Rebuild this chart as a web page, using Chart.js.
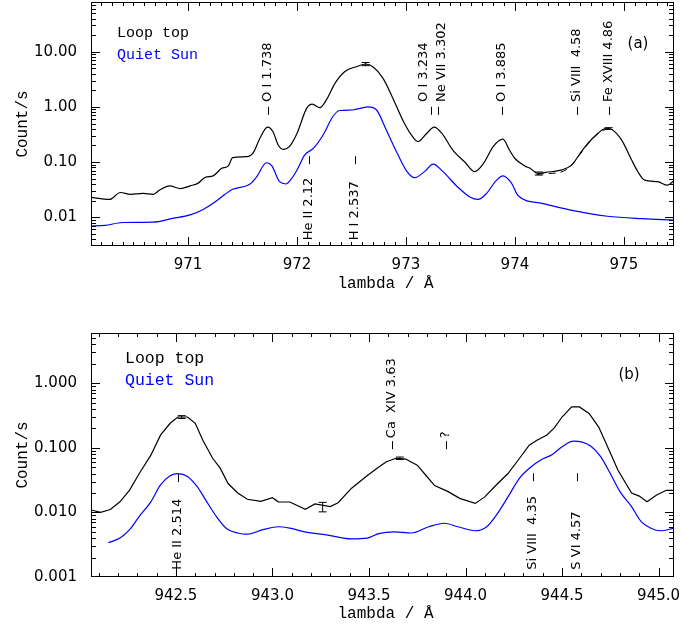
<!DOCTYPE html>
<html>
<head>
<meta charset="utf-8">
<script src="https://cdn.jsdelivr.net/npm/chart.js@4.4.1/dist/chart.umd.min.js"></script>
<style>
    body { margin: 0; background: #fff; }
    #wrap { position: relative; width: 682px; height: 630px; }
    canvas { position: absolute; left: 0; }
</style>
</head>
<body>
<div id="wrap">
    <canvas id="panelA" width="682" height="315" style="top:0"></canvas>
    <canvas id="panelB" width="682" height="315" style="top:315px"></canvas>
</div>
<script>
// ---- 面板 (a) 数据 ----
const waveA = [970.10, 970.28, 970.38, 970.47, 970.59, 970.68, 970.74, 970.83, 970.93, 971.02,
    971.09, 971.16, 971.23, 971.31, 971.37, 971.41, 971.54, 971.60, 971.66, 971.73,
    971.78, 971.83, 971.88, 971.93, 972.00, 972.09, 972.14, 972.21, 972.27, 972.35,
    972.44, 972.55, 972.63, 972.70, 972.79, 972.88, 972.97, 973.05, 973.11, 973.19,
    973.26, 973.33, 973.43, 973.54, 973.63, 973.72, 973.80, 973.89, 973.95, 974.00,
    974.09, 974.14, 974.21, 974.28, 974.43, 974.52, 974.62, 974.73, 974.84, 974.89,
    974.98, 975.07, 975.13, 975.19, 975.31, 975.40, 975.46];
const loopA = [0.023, 0.021, 0.028, 0.026, 0.027, 0.026, 0.031, 0.037, 0.033, 0.037,
    0.041, 0.053, 0.056, 0.077, 0.085, 0.12, 0.125, 0.148, 0.27, 0.43,
    0.355, 0.20, 0.17, 0.19, 0.33, 0.95, 1.12, 0.97, 1.34, 2.7,
    4.4, 5.4, 6.0, 5.3, 3.3, 1.44, 0.58, 0.31, 0.235, 0.33,
    0.43, 0.33, 0.165, 0.10, 0.067, 0.10, 0.19, 0.26, 0.165, 0.116,
    0.085, 0.077, 0.062, 0.065, 0.072, 0.088, 0.165, 0.29, 0.41, 0.39,
    0.25, 0.11, 0.066, 0.047, 0.044, 0.038, 0.046];
const waveQuietA = [970.10, 970.24, 970.40, 970.68, 970.86, 971.02, 971.14, 971.25, 971.34, 971.41,
    971.57, 971.63, 971.72, 971.77, 971.84, 971.90, 971.94, 972.00, 972.07, 972.15,
    972.24, 972.33, 972.39, 972.51, 972.65, 972.73, 972.82, 972.92, 973.01, 973.08,
    973.17, 973.25, 973.34, 973.47, 973.59, 973.66, 973.74, 973.82, 973.89, 973.97,
    974.03, 974.25, 974.55, 974.85, 975.17, 975.46];
const quietA = [0.0069, 0.0071, 0.0080, 0.0081, 0.0095, 0.011, 0.0138, 0.019, 0.026, 0.032,
    0.040, 0.054, 0.097, 0.085, 0.044, 0.040, 0.047, 0.071, 0.134, 0.177,
    0.31, 0.67, 0.86, 0.88, 1.0, 0.88, 0.38, 0.144, 0.067, 0.052,
    0.067, 0.092, 0.067, 0.036, 0.023, 0.021, 0.027, 0.044, 0.056, 0.041,
    0.0245, 0.0178, 0.013, 0.0104, 0.0094, 0.0089];
// Fe XVIII 拟合（虚线）
const fitWaveA = [974.20, 974.30, 974.40, 974.50, 974.60, 974.70, 974.80, 974.86];
const fitA = [0.060, 0.062, 0.064, 0.080, 0.14, 0.25, 0.37, 0.40];
const errWaveA = [972.63, 974.22, 974.86];
const errLoA = [5.6, 0.058, 0.39];
const errHiA = [6.4, 0.066, 0.42];
const xTicksA = [971, 972, 973, 974, 975];
const xLabelsA = ['971', '972', '973', '974', '975'];
const yTicksA = [0.01, 0.1, 1, 10];
const yLabelsA = ['0.01', '0.10', '1.00', '10.00'];
// 谱线标注：短划线波长、文字波长、短划线位置、文字起点
const lineWaveA = [971.73, 972.11, 972.53, 973.23, 973.29, 973.88, 974.57, 974.86];
const lineTextWaveA = [971.73, 972.11, 972.53, 973.17, 973.33, 973.88, 974.57, 974.86];
const lineNameA = ['O I 1.738', 'He II 2.12', 'H I 2.537', 'O I 3.234', 'Ne VII 3.302', 'O I 3.885', 'Si VIII  4.58', 'Fe XVIII 4.86'];
const lineMarkA = [0.85, 0.108, 0.108, 0.85, 0.85, 0.85, 0.85, 0.85];
const lineTextA = [1.23, 0.0038, 0.0038, 1.23, 1.23, 1.23, 1.23, 1.23];

// ---- 面板 (b) 数据 ----
const waveB = [942.06, 942.11, 942.16, 942.21, 942.26, 942.31, 942.37, 942.42, 942.47, 942.51,
    942.56, 942.60, 942.64, 942.69, 942.73, 942.77, 942.82, 942.87, 942.94, 943.00,
    943.03, 943.09, 943.17, 943.22, 943.30, 943.34, 943.41, 943.49, 943.54, 943.59,
    943.64, 943.69, 943.75, 943.80, 943.84, 943.91, 943.97, 944.05, 944.10, 944.15,
    944.22, 944.28, 944.33, 944.37, 944.42, 944.46, 944.50, 944.55, 944.59, 944.64,
    944.69, 944.74, 944.79, 944.86, 944.90, 944.94, 944.99, 945.04, 945.08];
const loopB = [0.0109, 0.0100, 0.0111, 0.0146, 0.0222, 0.040, 0.077, 0.157, 0.24, 0.30,
    0.30, 0.24, 0.13, 0.069, 0.048, 0.028, 0.020, 0.016, 0.0148, 0.0169,
    0.0146, 0.0145, 0.0112, 0.0135, 0.0123, 0.0141, 0.0237, 0.037, 0.048, 0.061,
    0.069, 0.067, 0.054, 0.036, 0.026, 0.021, 0.0165, 0.0138, 0.0174, 0.025,
    0.040, 0.069, 0.110, 0.131, 0.157, 0.204, 0.30, 0.43, 0.43, 0.34,
    0.21, 0.098, 0.045, 0.020, 0.0179, 0.0146, 0.0186, 0.022, 0.022];
const waveQuietB = [942.15, 942.21, 942.26, 942.31, 942.37, 942.42, 942.47, 942.51, 942.56, 942.61,
    942.66, 942.71, 942.76, 942.82, 942.87, 942.95, 943.03, 943.09, 943.18, 943.28,
    943.41, 943.49, 943.55, 943.63, 943.72, 943.81, 943.89, 943.96, 944.05, 944.11,
    944.16, 944.22, 944.28, 944.34, 944.39, 944.45, 944.50, 944.56, 944.60, 944.65,
    944.70, 944.75, 944.80, 944.86, 944.91, 944.96, 945.01, 945.08];
const quietB = [0.0034, 0.0040, 0.0054, 0.0087, 0.0146, 0.0266, 0.037, 0.040, 0.036, 0.025,
    0.0146, 0.0086, 0.0057, 0.0048, 0.0046, 0.0054, 0.0060, 0.0057, 0.0049, 0.0045,
    0.0039, 0.0040, 0.0047, 0.0050, 0.0048, 0.0060, 0.0068, 0.0060, 0.0052, 0.0060,
    0.0091, 0.0174, 0.034, 0.051, 0.065, 0.079, 0.104, 0.127, 0.124, 0.106,
    0.073, 0.040, 0.021, 0.0123, 0.0072, 0.0057, 0.0052, 0.0057];
const errWaveB = [942.53, 943.26, 943.66];
const errLoB = [0.285, 0.0102, 0.066];
const errHiB = [0.315, 0.0143, 0.072];
const xTicksB = [942.5, 943.0, 943.5, 944.0, 944.5, 945.0];
const xLabelsB = ['942.5', '943.0', '943.5', '944.0', '944.5', '945.0'];
const yTicksB = [0.001, 0.01, 0.1, 1];
const yLabelsB = ['0.001', '0.010', '0.100', '1.000'];
const lineWaveB = [942.51, 943.62, 943.90, 944.35, 944.58];
const lineTextWaveB = [942.51, 943.62, 943.90, 944.35, 944.58];
const lineNameB = ['He II 2.514', 'Ca  XIV 3.63', '?', 'Si VIII  4.35', 'S VI 4.57'];
const lineMarkB = [0.034, 0.110, 0.110, 0.035, 0.035];
const lineTextB = [0.0013, 0.141, 0.141, 0.0013, 0.0013];

// 辅助函数：把两个数组拼成点
function pts(xs, ys) {
    return xs.map((x, i) => ({ x: x, y: ys[i] }));
}

// 边框、内向刻度、标注、误差棒、图例
const framePlugin = {
    id: 'frame',
    afterDatasetsDraw(chart, args, o) {
        const ctx = chart.ctx;
        const a = chart.chartArea;
        const x = chart.scales.x, y = chart.scales.y;
        ctx.save();
        ctx.strokeStyle = '#000';
        ctx.fillStyle = '#000';
        ctx.lineWidth = 1;
        const seg = (x1, y1, x2, y2) => {
            ctx.beginPath(); ctx.moveTo(x1, y1); ctx.lineTo(x2, y2); ctx.stroke();
        };
        ctx.strokeRect(a.left + 0.5, a.top + 0.5, a.right - a.left - 1, a.bottom - a.top - 1);

        // x 刻度
        for (let v = o.xMin; v <= o.xMax + 1e-6; v += o.xMinor) {
            const px = Math.round(x.getPixelForValue(v)) + 0.5;
            if (px <= a.left + 1 || px >= a.right - 1) continue;
            const major = o.xMajor.some(m => Math.abs(m - v) < 1e-6);
            const len = major ? 9 : 4;
            seg(px, a.bottom, px, a.bottom - len);
            seg(px, a.top, px, a.top + len);
        }
        // y 刻度（对数）
        for (let e = -4; e <= 2; e++) {
            for (let m = 1; m <= 9; m++) {
                const v = m * Math.pow(10, e);
                if (v < y.min || v > y.max) continue;
                const py = Math.round(y.getPixelForValue(v)) + 0.5;
                if (py <= a.top + 1 || py >= a.bottom - 1) continue;
                const len = m === 1 ? 9 : 5;
                seg(a.left, py, a.left + len, py);
                seg(a.right, py, a.right - len, py);
            }
        }

        // 误差棒
        o.err.wave.forEach((w, i) => {
            const px = x.getPixelForValue(w);
            const lo = y.getPixelForValue(o.err.lo[i]);
            const hi = y.getPixelForValue(o.err.hi[i]);
            seg(px, lo, px, hi);
            seg(px - 4, lo, px + 4, lo);
            seg(px - 4, hi, px + 4, hi);
        });

        // 谱线标注
        ctx.font = '13px "DejaVu Sans"';
        ctx.textAlign = 'left';
        ctx.textBaseline = 'middle';
        o.lines.wave.forEach((w, i) => {
            const px = Math.round(x.getPixelForValue(w)) + 0.5;
            const pm = y.getPixelForValue(o.lines.mark[i]);
            seg(px, pm - 4, px, pm + 4);
            const tx = Math.round(x.getPixelForValue(o.lines.textWave[i]));
            const pt = y.getPixelForValue(o.lines.text[i]);
            ctx.save();
            ctx.translate(tx, pt);
            ctx.rotate(-Math.PI / 2);
            ctx.fillText(o.lines.name[i], 0, 0);
            ctx.restore();
        });

        // 图例与面板标记
        ctx.textBaseline = 'alphabetic';
        ctx.font = o.legendFont;
        ctx.fillStyle = '#000';
        ctx.fillText('Loop top', o.legendX, o.legendY1);
        ctx.fillStyle = '#0000ff';
        ctx.fillText('Quiet Sun', o.legendX, o.legendY2);
        ctx.fillStyle = '#000';
        ctx.font = '15px "DejaVu Sans"';
        ctx.textAlign = 'center';
        ctx.textBaseline = 'middle';
        ctx.fillText(o.tag, o.tagX, o.tagY);

        // 坐标轴标题
        ctx.font = '16px "Liberation Mono"';
        ctx.textBaseline = 'alphabetic';
        ctx.fillText('lambda / Å', (a.left + a.right) / 2 + 3, o.xTitleY);
        ctx.save();
        ctx.translate(27, (a.top + a.bottom) / 2);
        ctx.rotate(-Math.PI / 2);
        ctx.fillText('Count/s', 0, 0);
        ctx.restore();
        ctx.restore();
    }
};

function makePanel(id, cfg) {
    const ctx = document.getElementById(id).getContext('2d');
    return new Chart(ctx, {
        type: 'line',
        data: { datasets: cfg.datasets },
        options: {
            responsive: false,
            animation: false,
            devicePixelRatio: 1,
            layout: { padding: { top: cfg.top, right: 8, left: 0, bottom: 0 } },
            plugins: {
                legend: { display: false },
                tooltip: { enabled: false },
                frame: cfg.frame
            },
            scales: {
                x: {
                    type: 'linear',
                    min: cfg.xMin,
                    max: cfg.xMax,
                    grid: { display: false },
                    border: { display: false },
                    afterBuildTicks: s => { s.ticks = cfg.xTicks.map(v => ({ value: v })); },
                    afterFit: s => { s.height = cfg.xHeight; s.paddingLeft = 0; s.paddingRight = 0; },
                    ticks: {
                        autoSkip: false,
                        maxRotation: 0,
                        padding: 2,
                        color: '#000',
                        font: { family: 'DejaVu Sans', size: 15 },
                        callback: (v) => cfg.xLabels[cfg.xTicks.findIndex(t => Math.abs(t - v) < 1e-6)]
                    }
                },
                y: {
                    type: 'logarithmic',
                    min: cfg.yMin,
                    max: cfg.yMax,
                    grid: { display: false },
                    border: { display: false },
                    afterBuildTicks: s => { s.ticks = cfg.yTicks.map(v => ({ value: v })); },
                    afterFit: s => { s.width = 91; s.paddingTop = 0; s.paddingBottom = 0; },
                    ticks: {
                        autoSkip: false,
                        padding: 6,
                        color: '#000',
                        font: { family: 'DejaVu Sans', size: 15 },
                        callback: (v) => cfg.yLabels[cfg.yTicks.findIndex(t => Math.abs(t - v) / t < 1e-6)]
                    }
                }
            }
        },
        plugins: [framePlugin]
    });
}

const lineStyle = { pointRadius: 0, borderWidth: 1.2, fill: false, cubicInterpolationMode: 'monotone' };

makePanel('panelA', {
    top: 2, xHeight: 69,
    xMin: 970.11, xMax: 975.46, yMin: 0.003, yMax: 80,
    xTicks: xTicksA, xLabels: xLabelsA, yTicks: yTicksA, yLabels: yLabelsA,
    datasets: [
        Object.assign({ label: 'Quiet Sun', data: pts(waveQuietA, quietA), borderColor: '#0000ff' }, lineStyle),
        Object.assign({ label: 'Loop top', data: pts(waveA, loopA), borderColor: '#000' }, lineStyle),
        Object.assign({ label: 'fit', data: pts(fitWaveA, fitA), borderColor: '#000', borderDash: [7, 5] }, lineStyle, { borderWidth: 1 })
    ],
    frame: {
        xMin: 970.2, xMax: 975.4, xMinor: 0.1, xMajor: xTicksA,
        err: { wave: errWaveA, lo: errLoA, hi: errHiA },
        lines: { wave: lineWaveA, textWave: lineTextWaveA, name: lineNameA, mark: lineMarkA, text: lineTextA },
        legendFont: '15px "Liberation Mono"', legendX: 117, legendY1: 37, legendY2: 59,
        tag: '(a)', tagX: 638, tagY: 44, xTitleY: 288
    }
});

makePanel('panelB', {
    top: 18, xHeight: 53,
    xMin: 942.06, xMax: 945.08, yMin: 0.001, yMax: 6,
    xTicks: xTicksB, xLabels: xLabelsB, yTicks: yTicksB, yLabels: yLabelsB,
    datasets: [
        Object.assign({ label: 'Quiet Sun', data: pts(waveQuietB, quietB), borderColor: '#0000ff' }, lineStyle),
        Object.assign({ label: 'Loop top', data: pts(waveB, loopB), borderColor: '#000' }, lineStyle, { cubicInterpolationMode: 'default', tension: 0 })
    ],
    frame: {
        xMin: 942.1, xMax: 945.0, xMinor: 0.1, xMajor: xTicksB,
        err: { wave: errWaveB, lo: errLoB, hi: errHiB },
        lines: { wave: lineWaveB, textWave: lineTextWaveB, name: lineNameB, mark: lineMarkB, text: lineTextB },
        legendFont: '16.5px "Liberation Mono"', legendX: 125, legendY1: 48, legendY2: 70,
        tag: '(b)', tagX: 629, tagY: 60, xTitleY: 303
    }
});
</script>
</body>
</html>
